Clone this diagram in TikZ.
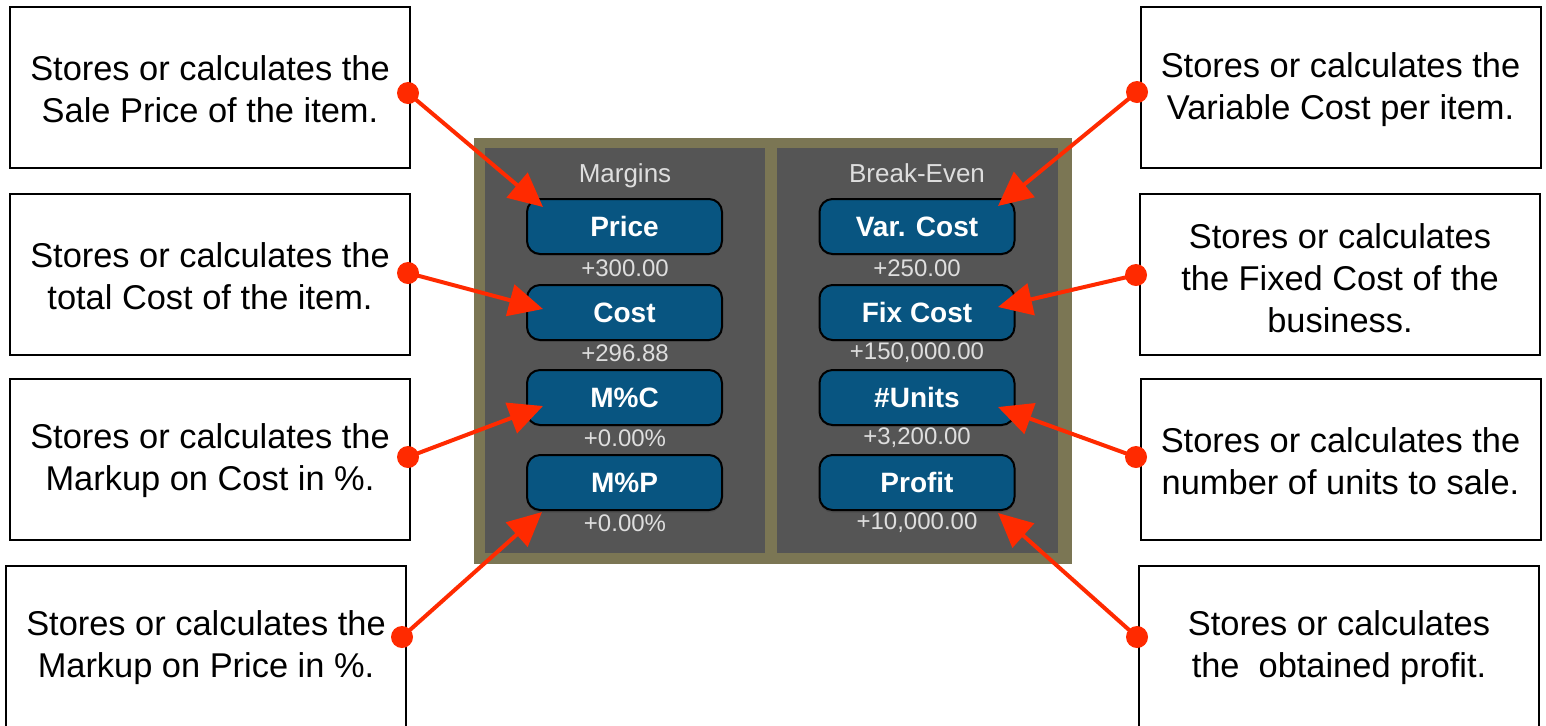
\documentclass[tikz,border=0pt]{standalone}
\usepackage{fontspec}
\setmainfont{Liberation Sans}
\usetikzlibrary{arrows.meta}
\definecolor{olive}{RGB}{123,118,84}
\definecolor{panelgray}{RGB}{85,85,85}
\definecolor{btnblue}{RGB}{8,85,129}
\definecolor{valgray}{RGB}{222,222,222}
\definecolor{arrred}{RGB}{255,42,0}
\begin{document}
\begin{tikzpicture}[x=0.5pt,y=-0.5pt,
  infobox/.style={draw=black,line width=1pt,fill=white,minimum width=200pt,minimum height=80.5pt,inner sep=0pt,align=center,font=\fontsize{17.2}{21}\selectfont},
  boxtext/.style={inner sep=0pt,align=center,font=\fontsize{17.2}{21}\selectfont},
  btn/.style={draw=black,line width=1pt,fill=btnblue,rounded corners=6.5pt,minimum width=97.5pt,minimum height=27.5pt,inner sep=0pt,text=white,font=\fontsize{14}{16}\selectfont\bfseries},
  btnshadow/.style={fill=black!70,rounded corners=6.5pt,minimum width=97.5pt,minimum height=27.5pt,inner sep=0pt},
  val/.style={text=valgray,inner sep=0pt,font=\fontsize{12}{14}\selectfont},
  hdr/.style={text=valgray,inner sep=0pt,anchor=base,font=\fontsize{13}{15}\selectfont},
  callout/.style={draw=arrred,line width=2pt,-{Triangle[length=17pt,width=16pt]}},
  dot/.style={fill=arrred,draw=none}
]
\useasboundingbox (0,0) rectangle (1546,725);
\fill[white] (0,0) rectangle (1546,725);

% panel
\fill[olive] (474,138) rectangle (1072,564);
\fill[panelgray] (485,148) rectangle (765,553);
\fill[panelgray] (777,148) rectangle (1058,553);

\node[hdr] (hm) at (625,182) {Margins};
\node[hdr] (hb) at (917,182) {Break-Even};

% shadows
\foreach \x/\y in {624.5/228, 624.5/314, 624.5/399, 624.5/485, 917/228, 917/314, 917/399, 917/485}{
  \node[btnshadow] at (\x,\y) {};
}

\node[btn] (price) at (624.5,226.5) {Price};
\node[btn] (cost) at (624.5,312.5) {Cost};
\node[btn] (mc) at (624.5,397.5) {M\%C};
\node[btn] (mp) at (624.5,482.5) {M\%P};
\node[btn] (var) at (917,226.5) {Var. Cost};
\node[btn] (fix) at (917,312.5) {Fix Cost};
\node[btn] (units) at (917,397.5) {\#Units};
\node[btn] (profit) at (917,482.5) {Profit};

\node[val] (v1) at (625,268) {+300.00};
\node[val] (v2) at (625,353) {+296.88};
\node[val] (v3) at (625,438) {+0.00\%};
\node[val] (v4) at (625,523) {+0.00\%};
\node[val] (w1) at (917,268) {+250.00};
\node[val] (w2) at (917,353) {+150,000.00};
\node[val] (w3) at (917,438) {+3,200.00};
\node[val] (w4) at (917,523) {+10,000.00};

% info boxes
\node[infobox] (b1) at (210,87.5) {};
\node[boxtext] (b1t) at (210,89.5) {Stores or calculates the\\Sale Price of the item.};
\node[infobox] (b2) at (210,274) {};
\node[boxtext] (b2t) at (210,276) {Stores or calculates the\\total Cost of the item.};
\node[infobox] (b3) at (210,459.5) {};
\node[boxtext] (b3t) at (210,461) {Stores or calculates the\\Markup on Cost in \%.};
\node[infobox,minimum height=82pt] (b4) at (206,648) {};
\node[boxtext] (t4) at (206,647.5) {Stores or calculates the\\Markup on Price in \%.};
\node[infobox] (c1) at (1340.5,87.5) {};
\node[boxtext] (c1t) at (1340.5,89.5) {Stores or calculates the\\Variable Cost per item.};
\node[infobox] (c2) at (1340,274) {};
\node[boxtext] (c2t) at (1340,278) {Stores or calculates\\the Fixed Cost of the\\business.};
\node[infobox] (c3) at (1340.5,459.5) {};
\node[boxtext] (c3t) at (1340.5,461) {Stores or calculates the\\number of units to sale.};
\node[infobox,minimum height=82pt] (c4) at (1339,648) {};
\node[boxtext] (u4) at (1339,647.5) {Stores or calculates\\the\ \ obtained profit.};

% callout coordinates
\coordinate (d1) at (408,93);
\coordinate (d2) at (408,273);
\coordinate (d3) at (408,457);
\coordinate (d4) at (402,637);
\coordinate (e1) at (1137,92);
\coordinate (e2) at (1136,275);
\coordinate (e3) at (1136,457);
\coordinate (e4) at (1137,637);
\coordinate (p1) at (543,207);
\coordinate (p2) at (543,309);
\coordinate (p3) at (543,406);
\coordinate (p4) at (542,512);
\coordinate (q1) at (998,206);
\coordinate (q2) at (998,307);
\coordinate (q3) at (998,407);
\coordinate (q4) at (998,513);

\foreach \a/\b in {d1/p1,d2/p2,d3/p3,d4/p4,e1/q1,e2/q2,e3/q3,e4/q4}{
  \draw[callout] (\a) -- (\b);
  \fill[dot] (\a) circle (5.5pt);
}
\end{tikzpicture}
\end{document}
